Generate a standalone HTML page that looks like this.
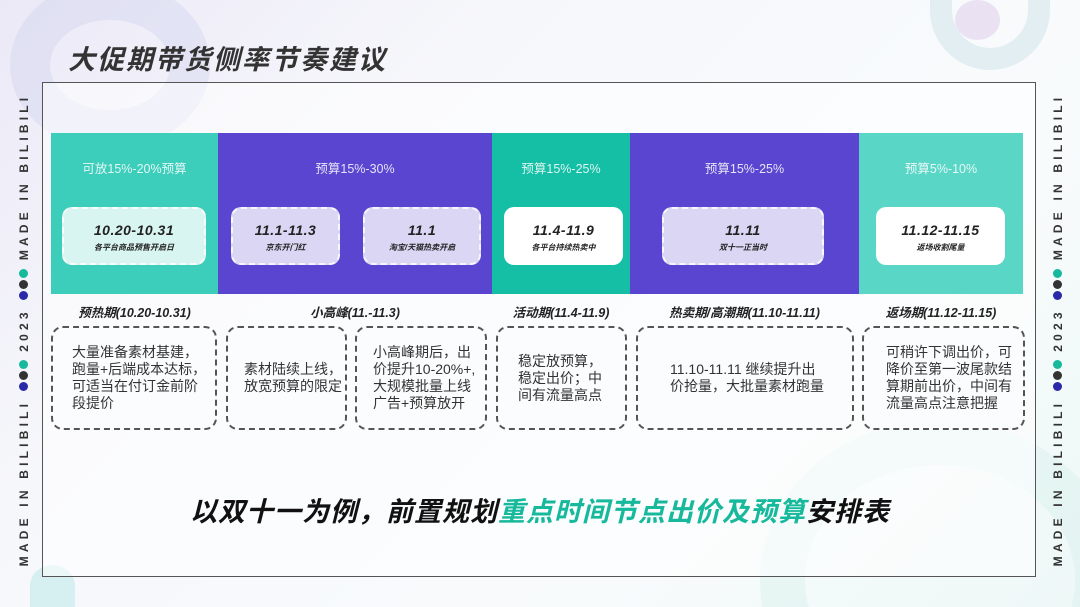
<!DOCTYPE html>
<html style="width:1080px;height:607px;overflow:hidden;background:#f5f6fa"><head><meta charset="utf-8"><style>
*{margin:0;padding:0;box-sizing:border-box}
body{width:1080px;height:607px;overflow:hidden;position:relative;font-family:"Liberation Sans","Noto Sans CJK SC",sans-serif;background:linear-gradient(135deg,#ece9f7 0%,#f6f7fb 30%,#f8fbfc 70%,#eef8f7 100%)}
.a{position:absolute}
.clip{position:absolute;left:0;top:0;width:1080px;height:607px;overflow:hidden}
.frame{left:42px;top:82px;width:994px;height:495px;border:1.5px solid #555;background:rgba(255,255,255,0.55)}
.col{top:133px;height:161px}
.bt{color:#fff;font-size:12.5px;text-align:center;top:158px;opacity:.85}
.ib{top:207px;height:58px;border-radius:10px;border:2px dashed rgba(255,255,255,.8);text-align:center;color:#222;font-style:italic;font-weight:bold}
.ib b{display:block;font-size:14px;margin-top:13px;letter-spacing:.5px}
.ib i{display:block;font-size:8px;margin-top:4px}
.pl{top:302px;font-size:12.5px;font-weight:bold;font-style:italic;text-align:center;color:#222}
.db{top:326px;height:104px;border:2px dashed #555;border-radius:12px;font-size:14px;color:#333;display:flex;align-items:center;line-height:17px;background:#fbfcfd;white-space:nowrap}
.side{font-size:12px;letter-spacing:4.2px;font-weight:bold;color:#333;white-space:nowrap;transform:rotate(-90deg);transform-origin:center;width:500px;text-align:center;height:16px;line-height:16px}
.d{display:inline-block;width:9px;height:9px;border-radius:50%;margin:0 1px}
</style></head><body>
<div class="clip">
<div class="a" style="left:10px;top:-20px;width:200px;height:170px;border-radius:50%;border:40px solid rgba(200,205,235,.35)"></div>
<div class="a" style="left:930px;top:-30px;width:120px;height:100px;border-radius:0 0 60px 60px;border:22px solid rgba(200,225,230,.45);border-top:none"></div>
<div class="a" style="left:955px;top:0;width:45px;height:40px;border-radius:50%;background:rgba(230,220,240,.8)"></div>
<div class="a" style="left:760px;top:420px;width:360px;height:320px;border-radius:50%;border:45px solid rgba(215,240,235,.45)"></div>
<div class="a" style="left:30px;top:565px;width:45px;height:42px;border-radius:50% 50% 0 0;background:rgba(200,235,235,.7)"></div>
<div class="a side" style="left:-226px;top:322px">MADE IN BILIBILI <span class="d" style="background:#2a2aa8"></span><span class="d" style="background:#333"></span><span class="d" style="background:#17b99c"></span> 2023 <span class="d" style="background:#2a2aa8"></span><span class="d" style="background:#333"></span><span class="d" style="background:#17b99c"></span> MADE IN BILIBILI</div>
<div class="a side" style="left:808px;top:322px">MADE IN BILIBILI <span class="d" style="background:#2a2aa8"></span><span class="d" style="background:#333"></span><span class="d" style="background:#17b99c"></span> 2023 <span class="d" style="background:#2a2aa8"></span><span class="d" style="background:#333"></span><span class="d" style="background:#17b99c"></span> MADE IN BILIBILI</div>
</div>
<div class="a" style="left:68px;top:38px;font-size:27px;font-weight:bold;font-style:italic;color:#333;letter-spacing:2px">大促期带货侧率节奏建议</div>
<div class="a frame"></div>
<div class="a col" style="left:51px;width:167px;background:#3ccdbb"></div>
<div class="a col" style="left:218px;width:274px;background:#5a45d0"></div>
<div class="a col" style="left:492px;width:138px;background:#14bfa5"></div>
<div class="a col" style="left:630px;width:229px;background:#5a45d0"></div>
<div class="a col" style="left:859px;width:164px;background:#5ad6c6"></div>
<div class="a bt" style="left:51px;width:167px">可放15%-20%预算</div>
<div class="a bt" style="left:218px;width:274px">预算15%-30%</div>
<div class="a bt" style="left:492px;width:138px">预算15%-25%</div>
<div class="a bt" style="left:630px;width:229px">预算15%-25%</div>
<div class="a bt" style="left:859px;width:164px">预算5%-10%</div>
<div class="a ib" style="left:62px;width:144px;background:#d9f5f1"><b>10.20-10.31</b><i>各平台商品预售开启日</i></div>
<div class="a ib" style="left:231px;width:109px;background:#dcd6f5"><b>11.1-11.3</b><i>京东开门红</i></div>
<div class="a ib" style="left:363px;width:118px;background:#dcd6f5"><b>11.1</b><i>淘宝/天猫热卖开启</i></div>
<div class="a ib" style="left:504px;width:119px;background:#fff"><b>11.4-11.9</b><i>各平台持续热卖中</i></div>
<div class="a ib" style="left:662px;width:162px;background:#dcd6f5"><b>11.11</b><i>双十一正当时</i></div>
<div class="a ib" style="left:876px;width:129px;background:#fff"><b>11.12-11.15</b><i>返场收割尾量</i></div>
<div class="a pl" style="left:51px;width:167px">预热期(10.20-10.31)</div>
<div class="a pl" style="left:218px;width:274px">小高峰(11.-11.3)</div>
<div class="a pl" style="left:492px;width:138px">活动期(11.4-11.9)</div>
<div class="a pl" style="left:630px;width:229px">热卖期/高潮期(11.10-11.11)</div>
<div class="a pl" style="left:859px;width:164px">返场期(11.12-11.15)</div>
<div class="a db" style="left:51px;width:166px;padding-left:19px"><div>大量准备素材基建，<br>跑量+后端成本达标，<br>可适当在付订金前阶<br>段提价</div></div>
<div class="a db" style="left:226px;width:121px;padding-left:16px"><div>素材陆续上线，<br>放宽预算的限定</div></div>
<div class="a db" style="left:355px;width:132px;padding-left:16px"><div>小高峰期后，出<br>价提升10-20%+,<br>大规模批量上线<br>广告+预算放开</div></div>
<div class="a db" style="left:496px;width:131px;padding-left:20px"><div>稳定放预算，<br>稳定出价；中<br>间有流量高点</div></div>
<div class="a db" style="left:636px;width:218px;padding-left:32px"><div>11.10-11.11 继续提升出<br>价抢量，大批量素材跑量</div></div>
<div class="a db" style="left:862px;width:163px;padding-left:22px"><div>可稍许下调出价，可<br>降价至第一波尾款结<br>算期前出价，中间有<br>流量高点注意把握</div></div>
<div class="a" style="left:0;width:1080px;top:490px;text-align:center;font-size:27px;font-weight:bold;font-style:italic;color:#111;letter-spacing:1px">以双十一为例，前置规划<span style="color:#17b99c">重点时间节点出价及预算</span>安排表</div>
</body></html>
